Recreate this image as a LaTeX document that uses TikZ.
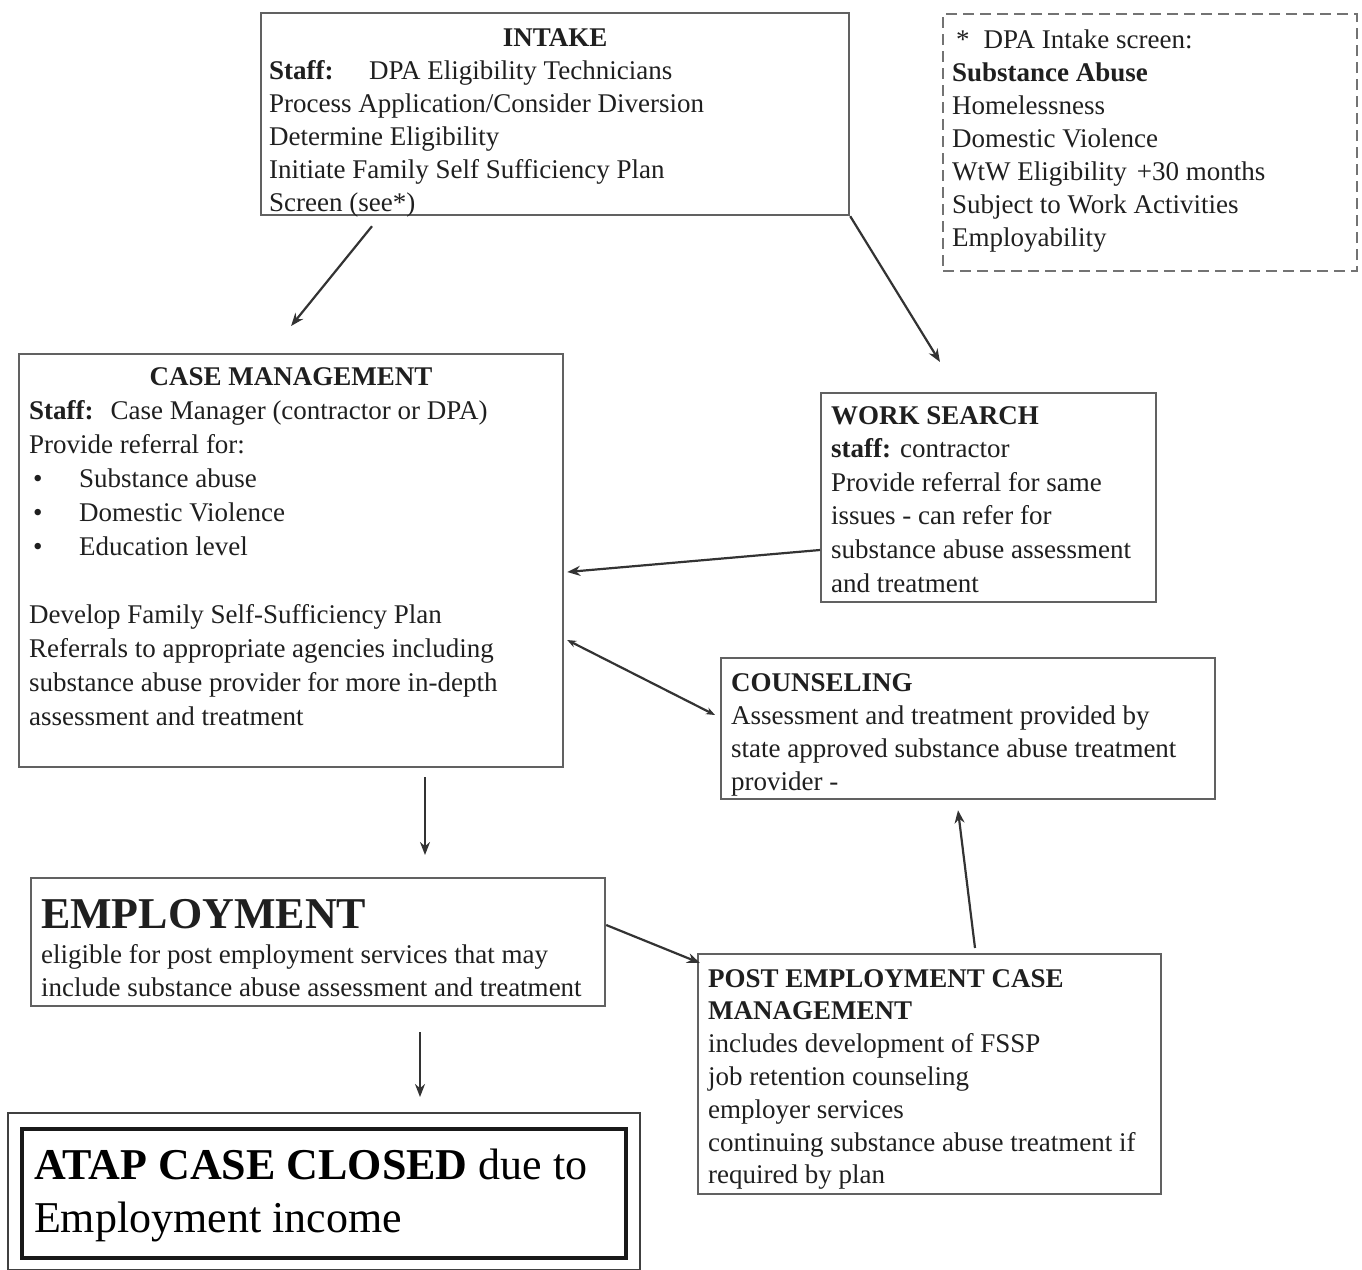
\documentclass[tikz,border=0pt]{standalone}
\usepackage{fontspec}
\setmainfont{Liberation Serif}
\usetikzlibrary{arrows.meta}

\tikzset{every picture/.style={line width=2.2pt}}
\tikzset{
  box/.style={draw=black!62, line width=2.2pt, inner sep=0pt, anchor=north west},
  dashbox/.style={box, draw=black!55, dash pattern=on 11pt off 6pt},
  txt/.style={anchor=north west, inner sep=0pt, align=left, text=black!88, font=\fontsize{27}{33}\selectfont},
  arr/.style={draw=black!80, -{Stealth[length=13pt,width=10pt]}},
  duo/.style={draw=black!80, {Stealth[length=9pt,width=7pt]}-{Stealth[length=9pt,width=7pt]}},
}

\begin{document}
\begin{tikzpicture}[x=1pt,y=1pt,yscale=-1,xscale=1]
\useasboundingbox (0,0) rectangle (1362,1269);

% boxes
\node[box, minimum width=588pt, minimum height=202pt] (intake) at (260,12) {};
\node[dashbox, minimum width=414pt, minimum height=257pt] (screen) at (942,13) {};
\node[box, minimum width=544pt, minimum height=413pt] (casemgmt) at (18,353) {};
\node[box, minimum width=335pt, minimum height=209pt] (worksearch) at (820,392) {};
\node[box, minimum width=494pt, minimum height=141pt] (counseling) at (720,657) {};
\node[box, minimum width=574pt, minimum height=128pt] (employment) at (30,877) {};
\node[box, minimum width=463pt, minimum height=240pt] (postemp) at (697,953) {};
\node[box, draw=black!90, line width=4pt, minimum width=604pt, minimum height=129pt] (closed) at (20,1127) {};
\draw[black!75, line width=2pt] ([shift={(-12,-14)}]closed.north west) rectangle ([shift={(12,10)}]closed.south east);

% texts
\node[txt] (intaketxt) at ([shift={(8,10)}]intake.north west) {\makebox[572pt][c]{\strut\bfseries INTAKE}\\
  \makebox[100pt][l]{\bfseries Staff:}DPA Eligibility Technicians\\
  Process Application/Consider Diversion\\
  Determine Eligibility\\
  Initiate Family Self Sufficiency Plan\\
  Screen (see*)};

\node[txt] (screentxt) at ([shift={(9,11)}]screen.north west) {\strut\hspace*{4pt}*\hspace{14pt}DPA Intake screen:\\
  \textbf{Substance Abuse}\\
  Homelessness\\
  Domestic Violence\\
  WtW Eligibility\hspace{10pt}+30 months\\
  Subject to Work Activities\\
  Employability};

\node[txt, font=\fontsize{27}{34}\selectfont] (casetxt) at ([shift={(10,8)}]casemgmt.north west) {\makebox[524pt][c]{\strut\bfseries CASE MANAGEMENT}\\
  \textbf{Staff:}\hspace{17pt}Case Manager (contractor or DPA)\\
  Provide referral for:\\
  \hspace*{4pt}\makebox[46pt][l]{\textbullet}Substance abuse\\
  \hspace*{4pt}\makebox[46pt][l]{\textbullet}Domestic Violence\\
  \hspace*{4pt}\makebox[46pt][l]{\textbullet}Education level\\
  \mbox{}\\
  Develop Family Self-Sufficiency Plan\\
  Referrals to appropriate agencies including\\
  substance abuse provider for more in-depth\\
  assessment and treatment};

\node[txt, font=\fontsize{27}{33.6}\selectfont] (worktxt) at ([shift={(10,7.5)}]worksearch.north west) {\strut\textbf{WORK SEARCH}\\
  \textbf{staff:} contractor\\
  Provide referral for same\\
  issues - can refer for\\
  substance abuse assessment\\
  and treatment};

\node[txt] (counseltxt) at ([shift={(10,10)}]counseling.north west) {\strut\textbf{COUNSELING}\\
  Assessment and treatment provided by\\
  state approved substance abuse treatment\\
  provider -};

\node[txt] (employtxt) at ([shift={(10,13)}]employment.north west) {\rule{0pt}{37pt}{\fontsize{44}{53}\selectfont\bfseries EMPLOYMENT}\\[2pt]
  eligible for post employment services that may\\
  include substance abuse assessment and treatment};

\node[txt, font=\fontsize{27}{32.8}\selectfont] (posttxt) at ([shift={(10,10)}]postemp.north west) {\strut\textbf{POST EMPLOYMENT CASE}\\
  \textbf{MANAGEMENT}\\
  includes development of FSSP\\
  job retention counseling\\
  employer services\\
  continuing substance abuse treatment if\\
  required by plan};

\node[txt, text=black, font=\fontsize{44}{53}\selectfont] (closedtxt) at ([shift={(13,14)}]closed.north west) {\strut\textbf{ATAP CASE CLOSED} due to\\
  Employment income};

% connectors
\draw[arr] ([shift={(112,10)}]intake.south west) -- ([shift={(0,-27)}]casemgmt.north);
\draw[arr] (intake.south east) -- ([shift={(120,-30)}]worksearch.north west);
\draw[arr] ([shift={(0,158)}]worksearch.north west) -- ([shift={(3,219)}]casemgmt.north east);
\draw[duo] ([shift={(-5,58)}]counseling.north west) -- ([shift={(3,287)}]casemgmt.north east);
\draw[arr] ([shift={(407,9)}]casemgmt.south west) -- ([shift={(395,-22)}]employment.north west);
\draw[arr] ([shift={(0,48)}]employment.north east) -- ([shift={(3,10)}]postemp.north west);
\draw[arr] ([shift={(278,-5)}]postemp.north west) -- ([shift={(238,10)}]counseling.south west);
\draw[arr] ([shift={(390,25)}]employment.south west) -- ([shift={(400,-30)}]closed.north west);

\end{tikzpicture}
\end{document}
